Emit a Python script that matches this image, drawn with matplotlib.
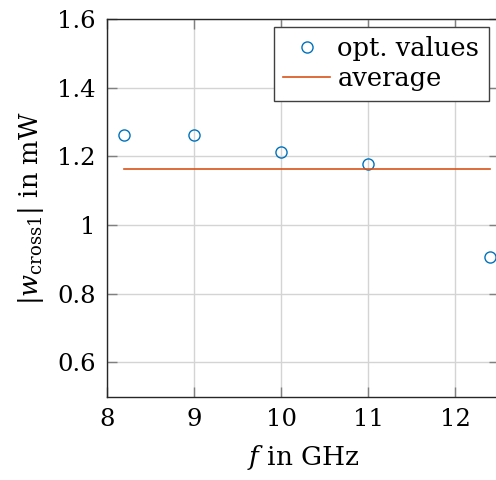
import numpy as np
import matplotlib
matplotlib.use('Agg')
import matplotlib.pyplot as plt

freq = [8.2, 9, 10, 11, 12.4]
opt_values = [1.263, 1.263, 1.214, 1.177, 0.906]
avg_value = np.mean(opt_values)

x_ticks = [8, 9, 10, 11, 12]
y_ticks = [0.6, 0.8, 1.0, 1.2, 1.4, 1.6]
y_labels = ['0.6', '0.8', '1', '1.2', '1.4', '1.6']

plt.rcParams['font.family'] = ['DejaVu Serif']
plt.rcParams['mathtext.fontset'] = 'custom'
plt.rcParams['mathtext.rm'] = 'DejaVu Serif'
plt.rcParams['mathtext.it'] = 'DejaVu Serif:italic'
plt.rcParams['font.size'] = 15

fig = plt.figure(figsize=(4.96, 4.8), dpi=100)
ax = fig.add_axes([107 / 496, (480 - 396.7) / 480, 392 / 496, (396.7 - 19) / 480])

ax.plot(freq, opt_values, 'o', mfc='none', mec='#0072BD', ms=8, mew=1.0,
        label='opt. values', zorder=3)
ax.plot([freq[0], freq[-1]], [avg_value, avg_value], color='#D95319', lw=1.2,
        label='average', zorder=3)

ax.set_xlim(8, 12.5)
ax.set_ylim(0.5, 1.6)
ax.set_xticks(x_ticks)
ax.set_yticks(y_ticks)
ax.set_yticklabels(y_labels)
ax.grid(True, color='#d4d4d4', lw=1.0)
ax.set_axisbelow(True)
ax.tick_params(direction='in', length=7, width=1.0, color='#808080', labelsize=17.5, pad=8,
               top=True, right=True)

for s in ['left', 'bottom', 'top', 'right']:
    ax.spines[s].set_color('#262626')
    ax.spines[s].set_linewidth(1.0)

ax.set_xlabel('$f$ in GHz', fontsize=19, labelpad=9)
ax.set_ylabel(r'$|w_{\mathrm{cross1}}|$ in mW', fontsize=18.5, labelpad=8)

leg = ax.legend(loc='upper right', bbox_to_anchor=(0.975, 0.98), fontsize=18.5,
                fancybox=False, framealpha=1, edgecolor='#404040',
                handlelength=1.8, handletextpad=0.3, borderpad=0.38,
                labelspacing=0.2, borderaxespad=0)
leg.get_frame().set_linewidth(1.0)

plt.savefig('out.png', dpi=100)
